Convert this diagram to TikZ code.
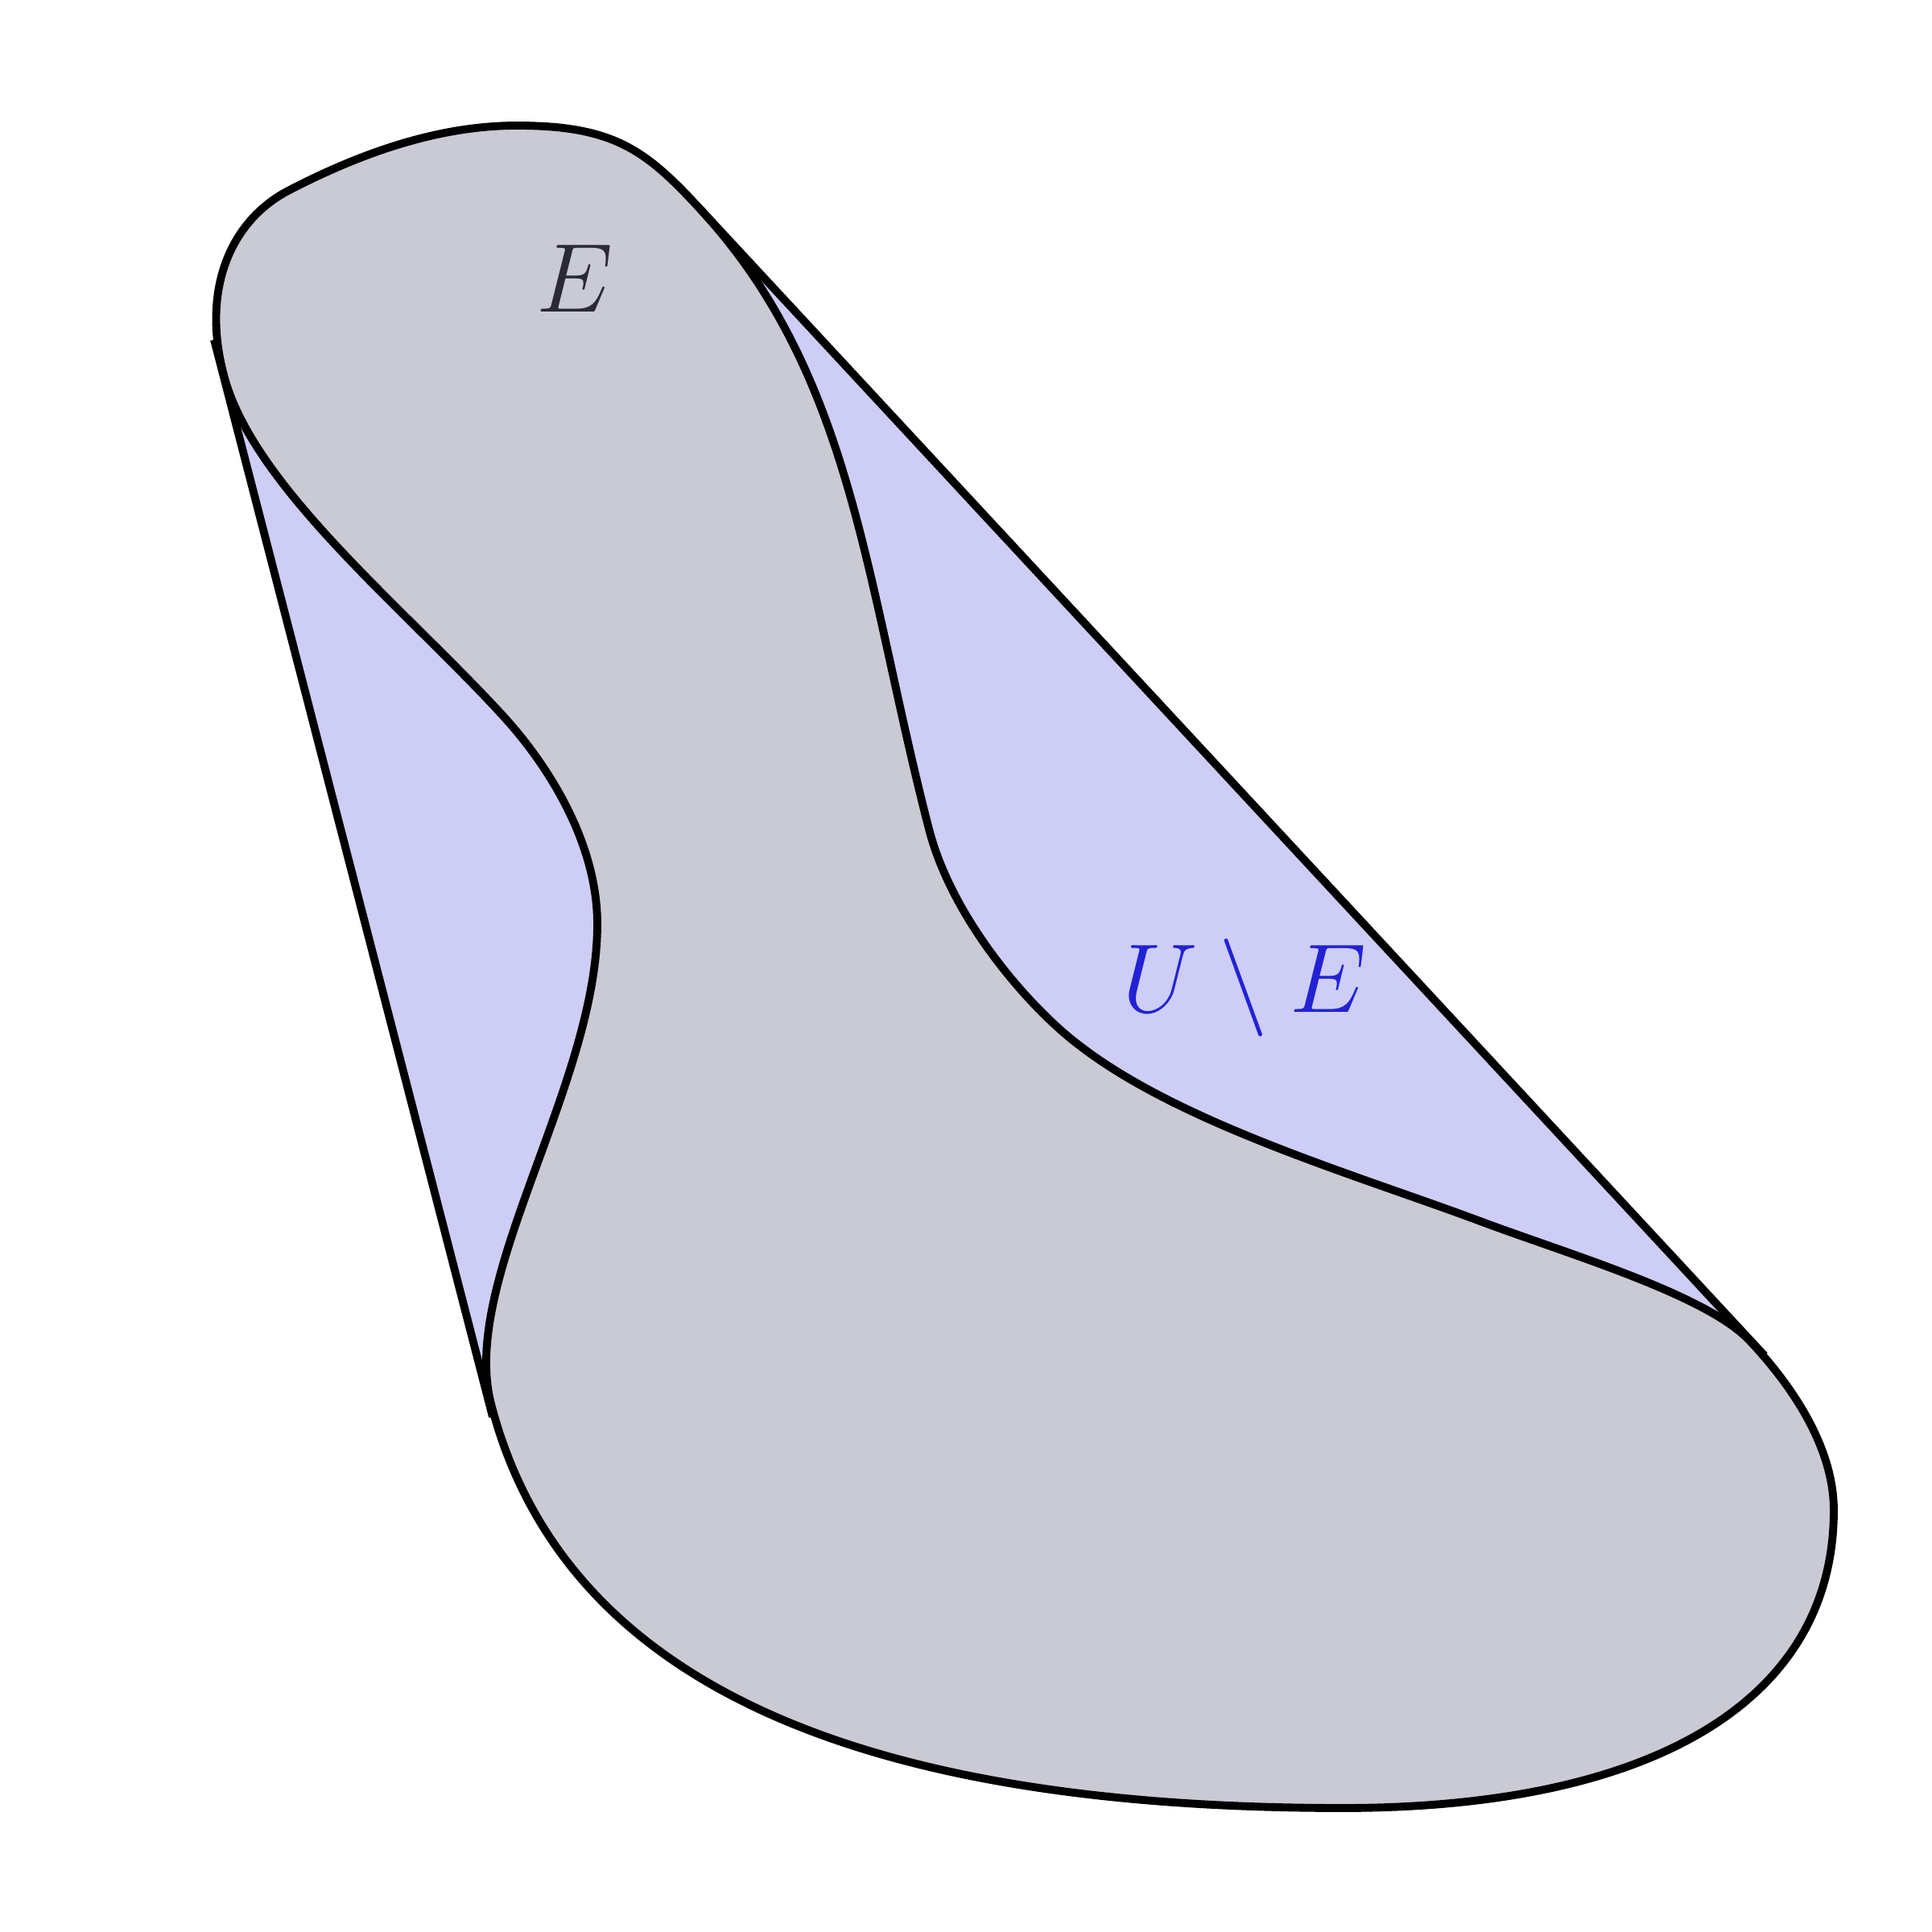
\documentclass[tikz,border=0pt]{standalone}
\usepackage{amsmath,amssymb}
\usepackage{tikz}
\usetikzlibrary{calc}
\definecolor{setgray}{HTML}{C9CAD4}
\definecolor{hullblue}{HTML}{CDCDF5}
\definecolor{labelblue}{HTML}{2222D4}
\definecolor{labeldark}{HTML}{2A2A34}
\tikzset{
  % mängder
  hullfill/.style={fill=hullblue},
  setfill/.style={fill=setgray},
  rand/.style={draw=black,line width=1.4pt,line join=round},
  lbl/.style={font=\LARGE,inner sep=0pt,anchor=base},
}
\begin{document}
\begin{tikzpicture}
  \useasboundingbox (0,0) rectangle (12,12);
  % stödlinjer för höljet U
  \coordinate (ta) at (1.33,9.89);
  \coordinate (tb) at (3.06,3.20);
  \coordinate (tc) at (10.96,3.58);
  \coordinate (td) at (4.35,10.70);
  \fill[hullfill] (ta) -- (tb) -- (tc) -- (td) -- cycle;
  % mängden E
  \path[setfill,rand] (1.78,10.81)
    .. controls (2.22,11.04) and (2.71,11.22) .. (3.21,11.22)
    .. controls (3.81,11.22) and (4.01,11.07) .. (4.35,10.70)
    .. controls (5.30,9.67) and (5.37,8.40) .. (5.77,6.85)
    .. controls (5.92,6.27) and (6.42,5.72) .. (6.70,5.51)
    .. controls (7.33,5.02) and (8.43,4.70) .. (9.18,4.42)
    .. controls (9.74,4.21) and (10.60,3.96) .. (10.87,3.67)
    .. controls (11.18,3.34) and (11.39,2.97) .. (11.39,2.62)
    .. controls (11.39,1.42) and (10.24,0.77) .. (8.34,0.77)
    .. controls (5.34,0.77) and (3.50,1.54) .. (3.05,3.28)
    .. controls (2.85,4.05) and (3.71,5.26) .. (3.71,6.26)
    .. controls (3.71,6.76) and (3.41,7.25) .. (3.10,7.58)
    .. controls (2.49,8.24) and (1.565,8.99) .. (1.39,9.67)
    .. controls (1.25,10.20) and (1.43,10.62) .. (1.78,10.81) -- cycle;
  \draw[rand] (ta) -- (tb);
  \draw[rand] (td) -- (tc);
  \node[lbl,text=labeldark] (e) at (3.57,10.06) {$E$};
  \node[lbl,text=labelblue] (ue) at (7.73,5.71) {$U\setminus E$};
\end{tikzpicture}
\end{document}
